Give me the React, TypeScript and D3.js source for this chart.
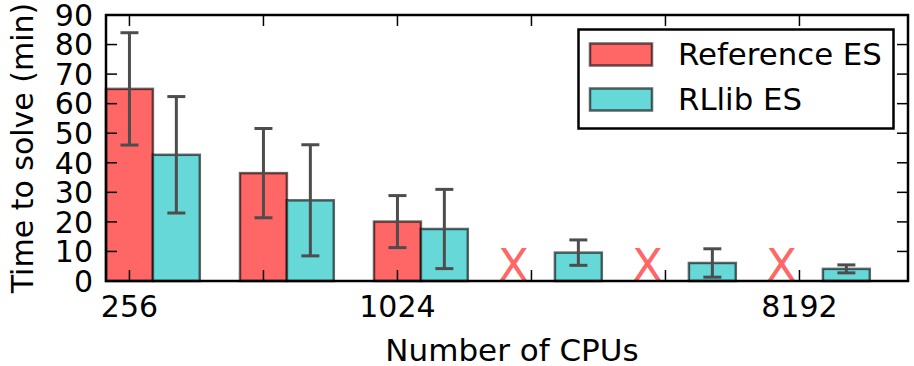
import React, { useEffect, useRef } from 'react';
import * as d3 from 'd3';

const cpuCounts = ['256', '512', '1024', '2048', '4096', '8192'];
const shownTickLabels = ['256', '', '1024', '', '', '8192'];
// null = run did not finish (drawn as an X)
const referenceMeans: (number | null)[] = [65, 36.5, 20.1, null, null, null];
const referenceErrors: (number | null)[] = [19, 15.1, 8.8, null, null, null];
const rllibMeans = [42.7, 27.3, 17.6, 9.6, 6.1, 4.1];
const rllibErrors = [19.7, 18.8, 13.4, 4.3, 4.8, 1.35];
const yTicks = [0, 10, 20, 30, 40, 50, 60, 70, 80, 90];
const seriesNames = ['Reference ES', 'RLlib ES'];

const App: React.FC = () => {
  const svgRef = useRef<SVGSVGElement>(null);

  useEffect(() => {
    if (!svgRef.current) return;
    const svg = d3.select(svgRef.current);
    svg.selectAll('*').remove();

    const width = 914;
    const height = 366;
    const left = 106, right = 908, top = 15, bottom = 281;
    const barWidth = 0.35;
    const font = '"DejaVu Sans", sans-serif';
    const redFill = '#ff6666';
    const cyanFill = '#66d8d8';
    const edge = 'rgba(0,0,0,0.6)';
    const errColor = '#4d4d4d';
    const tickLen = 11;

    const x = d3.scaleLinear().domain([-0.175, 5.81]).range([left, right]);
    const y = d3.scaleLinear().domain([0, 90]).range([bottom, top]);

    const idx = d3.range(cpuCounts.length);

    // bars
    const refIdx = idx.filter(i => referenceMeans[i] !== null);
    svg.append('g').selectAll('rect')
      .data(refIdx)
      .enter().append('rect')
      .attr('x', i => x(i - barWidth / 2))
      .attr('y', i => y(referenceMeans[i] as number))
      .attr('width', x(barWidth) - x(0))
      .attr('height', i => y(0) - y(referenceMeans[i] as number))
      .attr('fill', redFill)
      .attr('stroke', edge)
      .attr('stroke-width', 2.5);

    svg.append('g').selectAll('rect')
      .data(idx)
      .enter().append('rect')
      .attr('x', i => x(i + barWidth / 2))
      .attr('y', i => y(rllibMeans[i]))
      .attr('width', x(barWidth) - x(0))
      .attr('height', i => y(0) - y(rllibMeans[i]))
      .attr('fill', cyanFill)
      .attr('stroke', edge)
      .attr('stroke-width', 2.5);

    // error bars
    const errs: { cx: number; mean: number; err: number }[] = [];
    refIdx.forEach(i => errs.push({ cx: i, mean: referenceMeans[i] as number, err: referenceErrors[i] as number }));
    idx.forEach(i => errs.push({ cx: i + barWidth, mean: rllibMeans[i], err: rllibErrors[i] }));
    const eg = svg.append('g')
      .attr('stroke', errColor)
      .attr('stroke-width', 3);
    errs.forEach(e => {
      const px = x(e.cx);
      const y1 = y(e.mean + e.err);
      const y2 = y(Math.max(0, e.mean - e.err));
      eg.append('line').attr('x1', px).attr('x2', px).attr('y1', y1).attr('y2', y2);
      eg.append('line').attr('x1', px - 9).attr('x2', px + 9).attr('y1', y1).attr('y2', y1);
      eg.append('line').attr('x1', px - 9).attr('x2', px + 9).attr('y1', y2).attr('y2', y2);
    });

    // X markers where reference ES did not finish
    svg.append('g').selectAll('text')
      .data(idx.filter(i => referenceMeans[i] === null))
      .enter().append('text')
      .attr('x', i => x(i - 0.135))
      .attr('y', y(0))
      .attr('text-anchor', 'middle')
      .style('font-family', font)
      .style('font-size', '45px')
      .style('fill', redFill)
      .text('X');

    // frame
    svg.append('rect')
      .attr('x', left).attr('y', top)
      .attr('width', right - left).attr('height', bottom - top)
      .attr('fill', 'none')
      .attr('stroke', '#000')
      .attr('stroke-width', 2.5);

    // ticks (inward, on all four sides)
    const tg = svg.append('g').attr('stroke', '#000').attr('stroke-width', 1.5);
    idx.forEach(i => {
      tg.append('line').attr('x1', x(i)).attr('x2', x(i)).attr('y1', bottom).attr('y2', bottom - tickLen);
      tg.append('line').attr('x1', x(i)).attr('x2', x(i)).attr('y1', top).attr('y2', top + tickLen);
    });
    yTicks.forEach(t => {
      tg.append('line').attr('x1', left).attr('x2', left + tickLen).attr('y1', y(t)).attr('y2', y(t));
      tg.append('line').attr('x1', right).attr('x2', right - tickLen).attr('y1', y(t)).attr('y2', y(t));
    });

    // tick labels
    svg.append('g').selectAll('text')
      .data(idx)
      .enter().append('text')
      .attr('x', i => x(i))
      .attr('y', 317)
      .attr('text-anchor', 'middle')
      .style('font-family', font)
      .style('font-size', '30px')
      .style('fill', '#000')
      .text(i => shownTickLabels[i]);

    svg.append('g').selectAll('text')
      .data(yTicks)
      .enter().append('text')
      .attr('x', 93)
      .attr('y', d => y(d))
      .attr('dy', '0.36em')
      .attr('text-anchor', 'end')
      .style('font-family', font)
      .style('font-size', '30px')
      .style('fill', '#000')
      .text(d => d);

    // axis titles
    svg.append('text')
      .attr('x', (left + right) / 2 + 5)
      .attr('y', 361)
      .attr('text-anchor', 'middle')
      .style('font-family', font)
      .style('font-size', '31px')
      .style('fill', '#000')
      .text('Number of CPUs');

    svg.append('text')
      .attr('transform', `translate(33,${(top + bottom) / 2}) rotate(-90)`)
      .attr('text-anchor', 'middle')
      .style('font-family', font)
      .style('font-size', '30px')
      .style('fill', '#000')
      .text('Time to solve (min)');

    // legend
    const legend = svg.append('g');
    legend.append('rect')
      .attr('x', 578.5).attr('y', 29.5)
      .attr('width', 315).attr('height', 99)
      .attr('fill', '#fff')
      .attr('stroke', '#000')
      .attr('stroke-width', 2.5);
    const fills = [redFill, cyanFill];
    seriesNames.forEach((name, k) => {
      const yy = 43.5 + k * 45;
      legend.append('rect')
        .attr('x', 590).attr('y', yy)
        .attr('width', 62).attr('height', 22)
        .attr('fill', fills[k])
        .attr('stroke', edge)
        .attr('stroke-width', 2.5);
      legend.append('text')
        .attr('x', 678)
        .attr('y', yy + 21)
        .style('font-family', font)
        .style('font-size', '30.8px')
        .style('fill', '#000')
        .text(name);
    });

    svg.attr('width', width).attr('height', height);
  }, []);

  return (
    <svg
      ref={svgRef}
      width={914}
      height={366}
      style={{ position: 'absolute', left: 0, top: 0, background: '#fff' }}
    />
  );
};

export default App;
